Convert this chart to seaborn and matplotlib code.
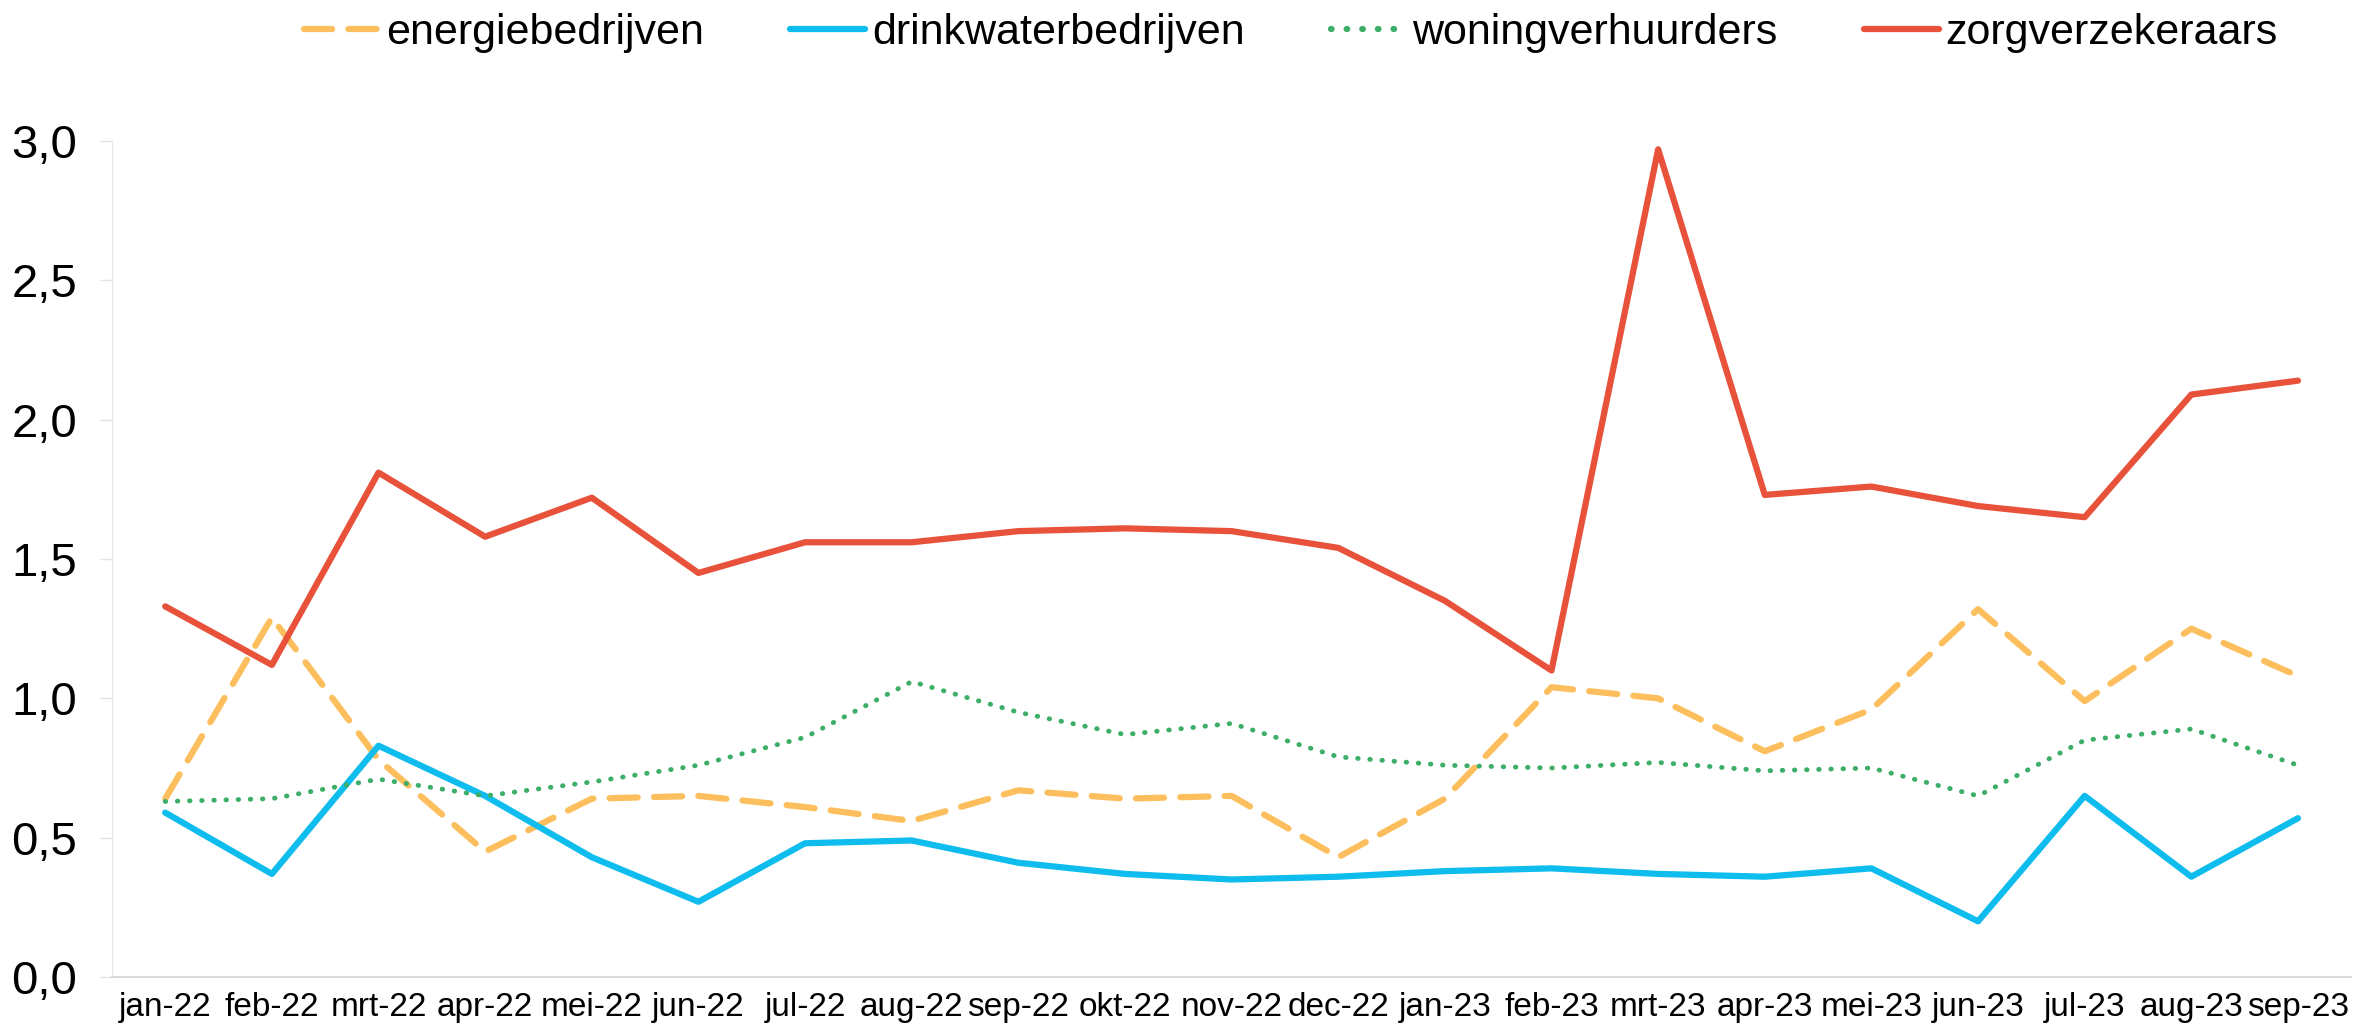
import matplotlib
matplotlib.use("Agg")
import matplotlib.pyplot as plt
import numpy as np
import pandas as pd
import seaborn as sns

months = ["jan-22", "feb-22", "mrt-22", "apr-22", "mei-22", "jun-22", "jul-22",
          "aug-22", "sep-22", "okt-22", "nov-22", "dec-22", "jan-23", "feb-23",
          "mrt-23", "apr-23", "mei-23", "jun-23", "jul-23", "aug-23", "sep-23"]

energie = [0.64, 1.29, 0.78, 0.45, 0.64, 0.65, 0.61, 0.56, 0.67, 0.64, 0.65,
           0.43, 0.64, 1.04, 1.00, 0.81, 0.96, 1.32, 0.99, 1.25, 1.08]
drinkwater = [0.59, 0.37, 0.83, 0.65, 0.43, 0.27, 0.48, 0.49, 0.41, 0.37, 0.35,
              0.36, 0.38, 0.39, 0.37, 0.36, 0.39, 0.20, 0.65, 0.36, 0.57]
woning = [0.63, 0.64, 0.71, 0.65, 0.70, 0.76, 0.86, 1.06, 0.95, 0.87, 0.91,
          0.79, 0.76, 0.75, 0.77, 0.74, 0.75, 0.65, 0.85, 0.89, 0.76]
zorg = [1.33, 1.12, 1.81, 1.58, 1.72, 1.45, 1.56, 1.56, 1.60, 1.61, 1.60,
        1.54, 1.35, 1.10, 2.97, 1.73, 1.76, 1.69, 1.65, 2.09, 2.14]

series_names = ["energiebedrijven", "drinkwaterbedrijven", "woningverhuurders", "zorgverzekeraars"]
series_values = [energie, drinkwater, woning, zorg]
colors = ["#FDBF5E", "#0EBCEE", "#3DAE67", "#E8513A"]
widths = [4.5, 4.5, 3.5, 4.5]
dash_styles = [(4.5, 2.6), None, (0.1, 2.4), None]

sns.set_style("white")
plt.rcParams["font.family"] = ["Liberation Sans", "DejaVu Sans"]
plt.rcParams["text.color"] = "black"
plt.rcParams["xtick.labelcolor"] = "black"
plt.rcParams["ytick.labelcolor"] = "black"

fig = plt.figure(figsize=(23.56, 10.29), dpi=100)
ax = fig.add_axes([0.0475, 0.0505, 0.9505, 0.8125])

for name, vals, col, lw, ds in zip(series_names, series_values, colors, widths, dash_styles):
    df = pd.DataFrame({"maand": months, "waarde": vals})
    sns.lineplot(data=df, x="maand", y="waarde", ax=ax, color=col, lw=lw,
                 label=name, sort=False)
    line = ax.lines[-1]
    if ds is not None:
        line.set_dashes(ds)
        line.set_dash_capstyle("round")

ax.set_xlim(-0.5, 20.5)
ax.set_ylim(0, 3.0)
ax.set_yticks(np.arange(0, 3.01, 0.5))
ax.set_yticklabels([f"{v:.1f}".replace(".", ",") for v in np.arange(0, 3.01, 0.5)])
ax.set_xlabel("")
ax.set_ylabel("")

ax.tick_params(axis="y", labelsize=34, length=9, width=1, color="#E3E3E3", pad=16, left=True,
               labelcolor="black")
ax.tick_params(axis="x", labelsize=24, length=0, pad=11, labelcolor="black")

for s in ["top", "right"]:
    ax.spines[s].set_visible(False)
ax.spines["left"].set_color("#E6E6E6")
ax.spines["bottom"].set_color("#D9D9D9")
ax.spines["bottom"].set_linewidth(1.5)

leg = ax.legend(loc="center", bbox_to_anchor=(0.548, 0.968), bbox_transform=fig.transFigure,
                ncol=4, frameon=False, fontsize=31, handlelength=1.75, handletextpad=0.15,
                columnspacing=2.0)
for h in leg.get_lines():
    h.set_linewidth(4.5)
for t in leg.get_texts():
    t.set_color("black")

plt.savefig("out.png", dpi=100)
